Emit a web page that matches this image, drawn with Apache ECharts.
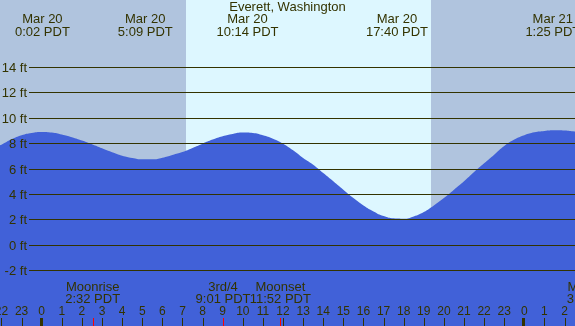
<!DOCTYPE html>
<html><head><meta charset="utf-8">
<script src="https://cdn.jsdelivr.net/npm/echarts@6/dist/echarts.min.js"></script>
<style>html,body{margin:0;padding:0;background:#fff;overflow:hidden}#c{width:575px;height:326px}</style>
</head><body><div id="c"></div>
<script>
// ---- data ----
const chartTitle = 'Everett, Washington';
// half-hourly samples: hours from Mar 20 00:00 PDT, tide height in ft
const curveHours = [-3, -2.5, -2, -1.5, -1, -0.5, 0, 0.5, 1, 1.5, 2, 2.5, 3, 3.5, 4, 4.5, 5, 5.5, 6, 6.5, 7, 7.5, 8, 8.5, 9, 9.5, 10, 10.5, 11, 11.5, 12, 12.5, 13, 13.5, 14, 14.5, 15, 15.5, 16, 16.5, 17, 17.5, 18, 18.5, 19, 19.5, 20, 20.5, 21, 21.5, 22, 22.5, 23, 23.5, 24, 24.5, 25, 25.5, 26, 26.5, 27];
const curveFeet  = [7.20, 7.60, 7.92, 8.34, 8.66, 8.84, 8.92, 8.87, 8.71, 8.50, 8.24, 7.95, 7.63, 7.32, 7.05, 6.87, 6.76, 6.76, 6.89, 7.11, 7.34, 7.66, 8.00, 8.32, 8.58, 8.76, 8.87, 8.84, 8.66, 8.39, 8.00, 7.47, 6.87, 6.34, 5.68, 5.03, 4.37, 3.71, 3.13, 2.66, 2.29, 2.11, 2.08, 2.26, 2.61, 3.13, 3.71, 4.37, 5.03, 5.76, 6.45, 7.13, 7.82, 8.32, 8.66, 8.89, 9.00, 9.05, 9.03, 8.95, 8.85];
const tideHours = [0.033, 5.15, 10.233, 17.667, 25.417];
const tideDates = ['Mar 20', 'Mar 20', 'Mar 20', 'Mar 20', 'Mar 21'];
const tideTimes = ['0:02 PDT', '5:09 PDT', '10:14 PDT', '17:40 PDT', '1:25 PDT'];
const moonHours = [2.533, 9.017, 11.867, 27.47];
const moonNames = ['Moonrise', '3rd/4', 'Moonset', 'Moonrise'];
const moonTimes = ['2:32 PDT', '9:01 PDT', '11:52 PDT', '3:28 PDT'];
const sunriseHour = 7.16;
const sunsetHour = 19.36;
const depthTicks = [-2, 0, 2, 4, 6, 8, 10, 12, 14];
const hourTicks = [-2, -1, 0, 1, 2, 3, 4, 5, 6, 7, 8, 9, 10, 11, 12, 13, 14, 15, 16, 17, 18, 19, 20, 21, 22, 23, 24, 25, 26];
const midnightTicks = [0, 24];

// ---- styles ----
const FONT = '"Liberation Sans", Arial, sans-serif';
const TXT = '#333300';
const NIGHT = '#b0c4de';
const DAY = '#ddf7ff';
const WATER = '#4161d8';

const bands = [
  [-10, sunriseHour, NIGHT],
  [sunriseHour, sunsetHour, DAY],
  [sunsetHour, 40, NIGHT]
];

const chart = echarts.init(document.getElementById('c'), null, {renderer: 'canvas'});
chart.setOption({
  animation: false,
  backgroundColor: NIGHT,
  title: {
    text: chartTitle, left: 'center', top: 1, padding: 0,
    textStyle: {fontFamily: FONT, fontSize: 13, fontWeight: 'normal', color: TXT}
  },
  grid: {left: 0, right: 0, top: 0, bottom: 0},
  xAxis: {type: 'value', min: -2.0736, max: 26.519, show: false},
  yAxis: {type: 'value', min: -6.374, max: 19.3202, show: false},
  series: [
    { // day / night background
      type: 'custom', z: 1, silent: true,
      data: bands.map((b, i) => [b[0], b[1], i]),
      renderItem: (params, api) => {
        const cs = params.coordSys;
        const i = api.value(2);
        let x1 = api.coord([api.value(0), 0])[0];
        let x2 = api.coord([api.value(1), 0])[0];
        x1 = Math.max(cs.x, Math.round(x1));
        x2 = Math.min(cs.x + cs.width, Math.round(x2));
        return {type: 'rect', shape: {x: x1, y: cs.y, width: x2 - x1, height: cs.height},
          style: {fill: bands[i][2]}};
      }
    },
    { // tide water
      type: 'line', z: 2, silent: true,
      data: curveHours.map((h, i) => [h, curveFeet[i]]),
      smooth: 0.5, showSymbol: false, symbol: 'none',
      lineStyle: {width: 0, color: WATER},
      areaStyle: {color: WATER, opacity: 1, origin: 'start'}
    },
    { // depth grid lines + labels
      type: 'custom', z: 3, silent: true,
      data: depthTicks.map(v => [0, v]),
      renderItem: (params, api) => {
        const cs = params.coordSys;
        const v = api.value(1);
        const y = Math.floor(api.coord([0, v])[1]) + 0.5;
        return {type: 'group', children: [
          {type: 'line', shape: {x1: 29, y1: y, x2: cs.x + cs.width, y2: y},
            style: {stroke: TXT, lineWidth: 1}},
          {type: 'text', style: {text: v + ' ft', x: 27, y: y + 0.5, align: 'right', verticalAlign: 'middle',
            font: '13px ' + FONT, fill: TXT}}
        ]};
      }
    },
    { // tide extreme labels
      type: 'custom', z: 4, silent: true,
      data: tideHours.map((h, i) => [h, i]),
      renderItem: (params, api) => {
        const i = api.value(1);
        const x = api.coord([api.value(0), 0])[0];
        return {type: 'group', children: [
          {type: 'text', style: {text: tideDates[i], x: x, y: 19.5, align: 'center', verticalAlign: 'middle', font: '13px ' + FONT, fill: TXT}},
          {type: 'text', style: {text: tideTimes[i], x: x, y: 32, align: 'center', verticalAlign: 'middle', font: '13px ' + FONT, fill: TXT}}
        ]};
      }
    },
    { // hour ticks + labels
      type: 'custom', z: 4, silent: true,
      data: hourTicks.map(h => [h, 0]),
      renderItem: (params, api) => {
        const cs = params.coordSys;
        const h = api.value(0);
        const x = api.coord([h, 0])[0];
        const bottom = cs.y + cs.height;
        const tx = Math.round(x) + 0.5;
        const lab = String(((h % 24) + 24) % 24);
        return {type: 'group', children: [
          {type: 'text', style: {text: lab, x: x, y: 311.5, align: 'center', verticalAlign: 'middle', font: '12px ' + FONT, fill: TXT}},
          {type: 'line', shape: {x1: tx, y1: bottom - 8, x2: tx, y2: bottom}, style: {stroke: TXT, lineWidth: 1}}
        ]};
      }
    },
    { // midnight thick ticks
      type: 'custom', z: 4, silent: true,
      data: midnightTicks.map(h => [h, 0]),
      renderItem: (params, api) => {
        const cs = params.coordSys;
        const x = api.coord([api.value(0), 0])[0];
        const bottom = cs.y + cs.height;
        return {type: 'rect', shape: {x: Math.round(x) - 2, y: bottom - 8, width: 3, height: 8}, style: {fill: TXT}};
      }
    },
    { // moon labels + red ticks
      type: 'custom', z: 5, silent: true,
      data: moonHours.map((h, i) => [h, i]),
      renderItem: (params, api) => {
        const cs = params.coordSys;
        const i = api.value(1);
        const x = api.coord([api.value(0), 0])[0];
        const bottom = cs.y + cs.height;
        const tx = Math.round(x) + 0.5;
        return {type: 'group', children: [
          {type: 'text', style: {text: moonNames[i], x: x, y: 287.5, align: 'center', verticalAlign: 'middle', font: '13px ' + FONT, fill: TXT}},
          {type: 'text', style: {text: moonTimes[i], x: x, y: 299.5, align: 'center', verticalAlign: 'middle', font: '13px ' + FONT, fill: TXT}},
          {type: 'line', shape: {x1: tx, y1: bottom - 8, x2: tx, y2: bottom}, style: {stroke: '#ff0000', lineWidth: 1}}
        ]};
      }
    }
  ]
});
</script>
</body></html>
